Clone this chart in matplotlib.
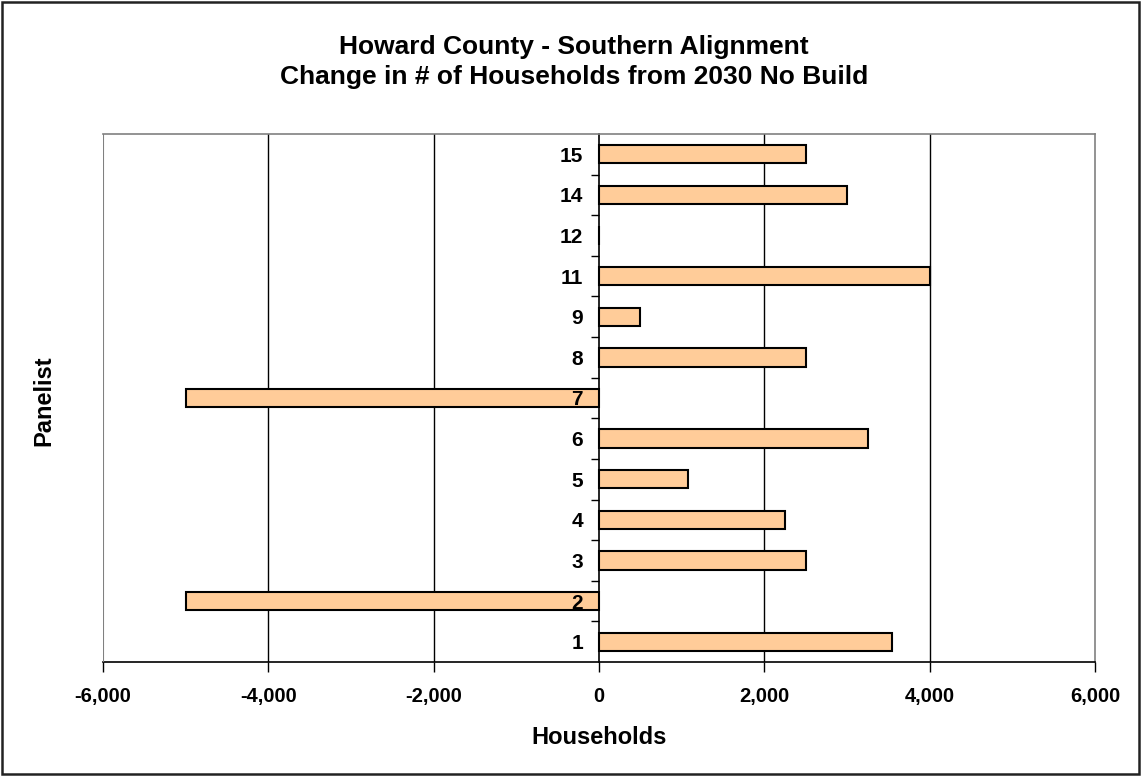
import matplotlib.pyplot as plt
from matplotlib.patches import Rectangle

# panelist change in households vs 2030 no-build
panelists = ["1", "2", "3", "4", "5", "6", "7", "8", "9", "11", "12", "14", "15"]
households = [3540, -5000, 2500, 2250, 1075, 3250, -5000, 2500, 500, 4000, 0, 3000, 2500]
xticks = [-6000, -4000, -2000, 0, 2000, 4000, 6000]
gridlines = [-4000, -2000, 2000, 4000]

plt.rcParams['font.family'] = ['Liberation Sans', 'DejaVu Sans']
plt.rcParams['font.weight'] = 'bold'

W, H = 1141, 776
fig = plt.figure(figsize=(W/100, H/100), dpi=100)
ax = fig.add_axes([103/W, 1-662/H, (1095-103)/W, (662-134)/H])
ax.set_axisbelow(False)  # keep tick labels on top of the bars

ypos = list(range(len(panelists)))
ax.barh(ypos, households, height=0.45, color='#FFCC99', edgecolor='black',
        linewidth=1.5, zorder=2)

for g in gridlines:
    ax.axvline(g, color='black', linewidth=1.0, zorder=1)

ax.set_xlim(-6000, 6000)
ax.set_ylim(-0.5, len(panelists)-0.5)

# y axis sits at zero, ticks between categories
ax.spines['left'].set_position(('data', 0))
ax.spines['left'].set_color('black')
ax.spines['left'].set_linewidth(1.2)
ax.spines['bottom'].set_color('black')
ax.spines['bottom'].set_linewidth(1.2)
for s in ('top', 'right'):
    ax.spines[s].set_color('#808080')
    ax.spines[s].set_linewidth(1.2)
ax.axvline(-6000, color='#808080', linewidth=1.5, zorder=3)

ax.set_yticks(ypos)
ax.set_yticklabels(panelists, fontsize=15, fontweight='bold')
ax.set_yticks([y + 0.5 for y in ypos[:-1]], minor=True)
ax.tick_params(axis='y', which='major', length=0, pad=11.5)
ax.tick_params(axis='y', which='minor', length=6, width=1.0, direction='out')

ax.set_xticks(xticks)
ax.set_xticklabels([f"{v:,}" for v in xticks], fontsize=14.5, fontweight='bold')
ax.tick_params(axis='x', which='major', length=7, width=1.0, direction='out', pad=11)

fig.text(574/W, 1-62/H, "Howard County - Southern Alignment\nChange in # of Households from 2030 No Build",
         ha='center', va='center', fontsize=19, fontweight='bold', linespacing=1.3)
fig.text(599/W, 1-738/H, "Households", ha='center', va='center', fontsize=17, fontweight='bold')
fig.text(44/W, 1-401/H, "Panelist", ha='center', va='center', rotation=90,
         fontsize=17, fontweight='bold')

fig.patches.append(Rectangle((0.002, 0.002), 0.996, 0.995, transform=fig.transFigure,
                             fill=False, edgecolor='#222222', linewidth=1.8))

fig.savefig("out.png", dpi=100)
